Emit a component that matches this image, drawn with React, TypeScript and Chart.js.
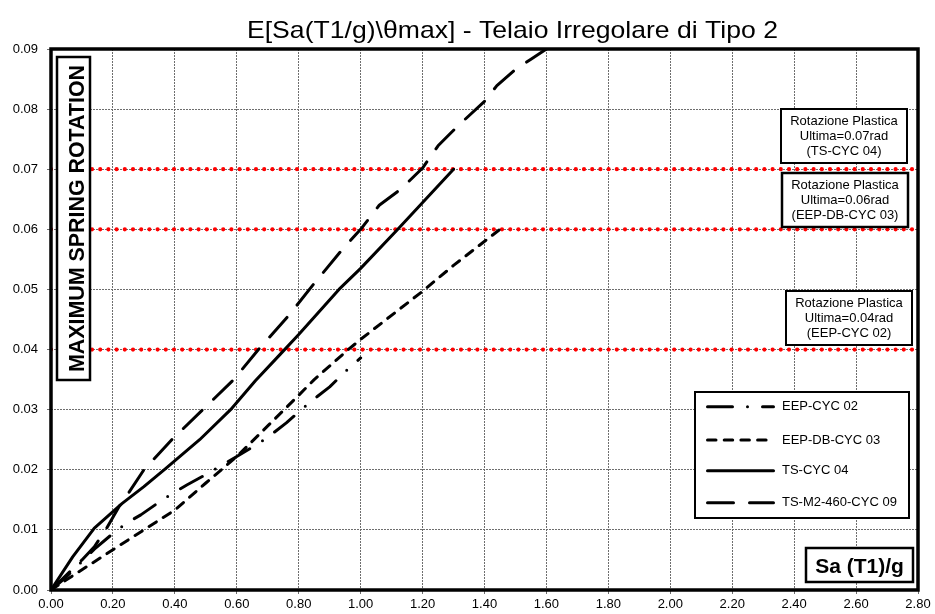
import React, { useEffect, useRef } from 'react';
import { Chart, registerables } from 'chart.js';

Chart.register(...registerables);

// ---------- data ----------
const CHART_TITLE = 'E[Sa(T1/g)\\θmax] - Telaio Irregolare di Tipo 2';
const Y_TITLE = 'MAXIMUM SPRING ROTATION';
const X_TITLE = 'Sa (T1)/g';

const X_MIN = 0;
const X_MAX = 2.8;
const X_STEP = 0.2;
const Y_MIN = 0;
const Y_MAX = 0.09;
const Y_STEP = 0.01;

const seriesNames = ['EEP-CYC 02', 'EEP-DB-CYC 03', 'TS-CYC 04', 'TS-M2-460-CYC 09'];

const eepCyc02X = [0, 0.05, 0.14, 0.2, 0.24, 0.29, 0.36, 0.4, 0.44, 0.5, 0.6, 0.68, 0.72, 0.76, 0.82, 0.86, 0.9, 0.96, 1.0];
const eepCyc02Y = [0, 0.0022, 0.0068, 0.0094, 0.011, 0.0125, 0.015, 0.0163, 0.0175, 0.0192, 0.0222, 0.0247, 0.0262, 0.0278, 0.0305, 0.0322, 0.0338, 0.0368, 0.0386];

const eepDbCyc03X = [0, 0.05, 0.2, 0.4, 0.5, 0.6, 0.7, 0.8, 0.85, 0.96, 1.0, 1.2, 1.3, 1.45];
const eepDbCyc03Y = [0, 0.0017, 0.0067, 0.0133, 0.0178, 0.0222, 0.0273, 0.0324, 0.035, 0.04, 0.0417, 0.0497, 0.054, 0.06];

const tsCyc04X = [0, 0.07, 0.14, 0.23, 0.3, 0.37, 0.48, 0.58, 0.66, 0.74, 0.8, 0.93, 1.0, 1.12, 1.21, 1.3];
const tsCyc04Y = [0, 0.0055, 0.0103, 0.0144, 0.0172, 0.0202, 0.025, 0.03, 0.0348, 0.0392, 0.0425, 0.05, 0.0535, 0.06, 0.065, 0.07];

const tsM2Cyc09X = [0, 0.1, 0.14, 0.18, 0.22, 0.25, 0.3, 0.39, 0.49, 0.59, 0.67, 0.77, 0.85, 0.94, 1.0, 1.06, 1.13, 1.2, 1.25, 1.31, 1.4, 1.44, 1.5, 1.55, 1.6];
const tsM2Cyc09Y = [0, 0.005, 0.0072, 0.0103, 0.0139, 0.0161, 0.02, 0.025, 0.03, 0.035, 0.04, 0.0458, 0.051, 0.0566, 0.06, 0.064, 0.0667, 0.0702, 0.0739, 0.077, 0.0813, 0.0839, 0.0866, 0.0883, 0.09];

const limitValues = [0.07, 0.06, 0.04];
const limitNotes = [
  ['Rotazione Plastica', 'Ultima=0.07rad', '(TS-CYC 04)'],
  ['Rotazione Plastica', 'Ultima=0.06rad', '(EEP-DB-CYC 03)'],
  ['Rotazione Plastica', 'Ultima=0.04rad', '(EEP-CYC 02)'],
];

// ---------- styles ----------
const FONT = '"Liberation Sans", Arial, sans-serif';
const dashStyles = [
  [25, 15, 0, 15],
  [8.5, 8.2],
  [],
  [26, 16],
];
// note boxes: [left, top, right, bottom, borderWidth]
const noteBoxes = [
  [781, 109, 907, 163, 2],
  [782, 173, 908, 227, 2.5],
  [786, 291, 912, 345, 2],
];

function toPoints(xs: number[], ys: number[]) {
  return xs.map((x, i) => ({ x, y: ys[i] }));
}

function fitText(ctx: CanvasRenderingContext2D, text: string, x: number, y: number, width: number) {
  const w = ctx.measureText(text).width;
  ctx.save();
  ctx.translate(x, y);
  ctx.scale(width / w, 1);
  ctx.fillText(text, 0, 0);
  ctx.restore();
}

const decorPlugin = {
  id: 'decor',
  afterDraw(chart: any) {
    const ctx: CanvasRenderingContext2D = chart.ctx;
    const a = chart.chartArea;
    ctx.save();
    ctx.setLineDash([]);
    ctx.strokeStyle = '#000';
    ctx.fillStyle = '#000';

    // plot border
    ctx.lineWidth = 3.5;
    ctx.strokeRect(a.left, a.top, a.right - a.left, a.bottom - a.top);

    // title
    ctx.font = `24px ${FONT}`;
    ctx.textAlign = 'center';
    ctx.textBaseline = 'alphabetic';
    fitText(ctx, CHART_TITLE, 512.5, 37.5, 531);

    // y title box
    ctx.font = `bold 22px ${FONT}`;
    const ylen = 307;
    ctx.fillStyle = '#fff';
    ctx.fillRect(57, 57, 33, ylen + 16);
    ctx.lineWidth = 2.5;
    ctx.strokeRect(57, 57, 33, ylen + 16);
    ctx.fillStyle = '#000';
    ctx.save();
    ctx.translate(83.5, 65);
    ctx.rotate(-Math.PI / 2);
    ctx.textAlign = 'right';
    ctx.textBaseline = 'alphabetic';
    ctx.fillText(Y_TITLE, 0, 0, ylen);
    ctx.restore();

    // x title box
    ctx.fillStyle = '#fff';
    ctx.fillRect(806, 548, 107, 34);
    ctx.lineWidth = 2.5;
    ctx.strokeRect(806, 548, 107, 34);
    ctx.fillStyle = '#000';
    ctx.font = `bold 21px ${FONT}`;
    ctx.textAlign = 'center';
    ctx.textBaseline = 'alphabetic';
    ctx.fillText(X_TITLE, 859.5, 572.5, 90);

    // note boxes
    ctx.font = `13px ${FONT}`;
    limitNotes.forEach((lines, i) => {
      const [l, t, r, b, bw] = noteBoxes[i];
      ctx.fillStyle = '#fff';
      ctx.fillRect(l, t, r - l, b - t);
      ctx.lineWidth = bw;
      ctx.strokeStyle = '#000';
      ctx.strokeRect(l, t, r - l, b - t);
      ctx.fillStyle = '#000';
      ctx.textAlign = 'center';
      ctx.textBaseline = 'middle';
      lines.forEach((s, j) => ctx.fillText(s, (l + r) / 2, t + 12.5 + j * 15));
    });

    // legend
    const lx0 = 695, ly0 = 392, lx1 = 909, ly1 = 518;
    ctx.fillStyle = '#fff';
    ctx.fillRect(lx0, ly0, lx1 - lx0, ly1 - ly0);
    ctx.lineWidth = 2;
    ctx.strokeStyle = '#000';
    ctx.strokeRect(lx0, ly0, lx1 - lx0, ly1 - ly0);
    const rows = [406.7, 440, 470.7, 502.7];
    seriesNames.forEach((name, i) => {
      const y = rows[i];
      ctx.save();
      ctx.lineWidth = 3;
      ctx.lineCap = 'round';
      ctx.setLineDash(dashStyles[i]);
      ctx.beginPath();
      ctx.moveTo(707.5, y);
      ctx.lineTo(773.5, y);
      ctx.stroke();
      ctx.restore();
      ctx.fillStyle = '#000';
      ctx.font = `13px ${FONT}`;
      ctx.textAlign = 'left';
      ctx.textBaseline = 'middle';
      ctx.fillText(name, 782, y);
    });

    ctx.restore();
  },
};

export default function App() {
  const ref = useRef<HTMLCanvasElement | null>(null);

  useEffect(() => {
    document.body.style.margin = '0';
    const canvas = ref.current;
    if (!canvas) return;

    const curveSets = [
      toPoints(eepCyc02X, eepCyc02Y),
      toPoints(eepDbCyc03X, eepDbCyc03Y),
      toPoints(tsCyc04X, tsCyc04Y),
      toPoints(tsM2Cyc09X, tsM2Cyc09Y),
    ];

    const datasets: any[] = curveSets.map((data, i) => ({
      label: seriesNames[i],
      data,
      showLine: true,
      borderColor: '#000',
      backgroundColor: '#000',
      borderWidth: 3,
      borderDash: dashStyles[i],
      borderCapStyle: 'round',
      borderJoinStyle: 'round',
      pointRadius: 0,
      tension: 0,
      fill: false,
    }));

    limitValues.forEach((v) => {
      datasets.push({
        label: 'limit ' + v,
        data: [{ x: X_MIN, y: v }, { x: X_MAX, y: v }],
        showLine: true,
        borderColor: '#ff0000',
        borderWidth: 4.2,
        borderDash: [0, 8.2],
        borderCapStyle: 'round',
        pointRadius: 0,
        fill: false,
      });
    });

    const chart = new Chart(canvas, {
      type: 'scatter',
      data: { datasets },
      plugins: [decorPlugin],
      options: {
        animation: false,
        responsive: false,
        maintainAspectRatio: false,
        events: [],
        layout: { padding: { top: 49, right: 17, bottom: 0, left: 0 } },
        plugins: {
          legend: { display: false },
          tooltip: { enabled: false },
          title: { display: false },
        },
        scales: {
          x: {
            type: 'linear',
            min: X_MIN,
            max: X_MAX,
            afterFit: (s: any) => { s.height = 24; },
            ticks: {
              stepSize: X_STEP,
              autoSkip: false,
              maxRotation: 0,
              padding: 3,
              color: '#000',
              font: { family: FONT, size: 13 },
              callback: (v: any) => Number(v).toFixed(2),
            },
            grid: { color: '#6e6e6e', lineWidth: 1, tickLength: 4 },
            border: { display: false, dash: [2, 1] },
          },
          y: {
            type: 'linear',
            min: Y_MIN,
            max: Y_MAX,
            afterFit: (s: any) => { s.width = 51; },
            ticks: {
              stepSize: Y_STEP,
              autoSkip: false,
              padding: 9,
              color: '#000',
              font: { family: FONT, size: 13 },
              callback: (v: any) => Number(v).toFixed(2),
            },
            grid: { color: '#6e6e6e', lineWidth: 1, tickLength: 4 },
            border: { display: false, dash: [2, 1] },
          },
        },
      },
    });

    return () => chart.destroy();
  }, []);

  return (
    <div style={{ width: 935, height: 614, background: '#fff' }}>
      <canvas ref={ref} width={935} height={614} style={{ display: 'block', width: 935, height: 614 }} />
    </div>
  );
}
